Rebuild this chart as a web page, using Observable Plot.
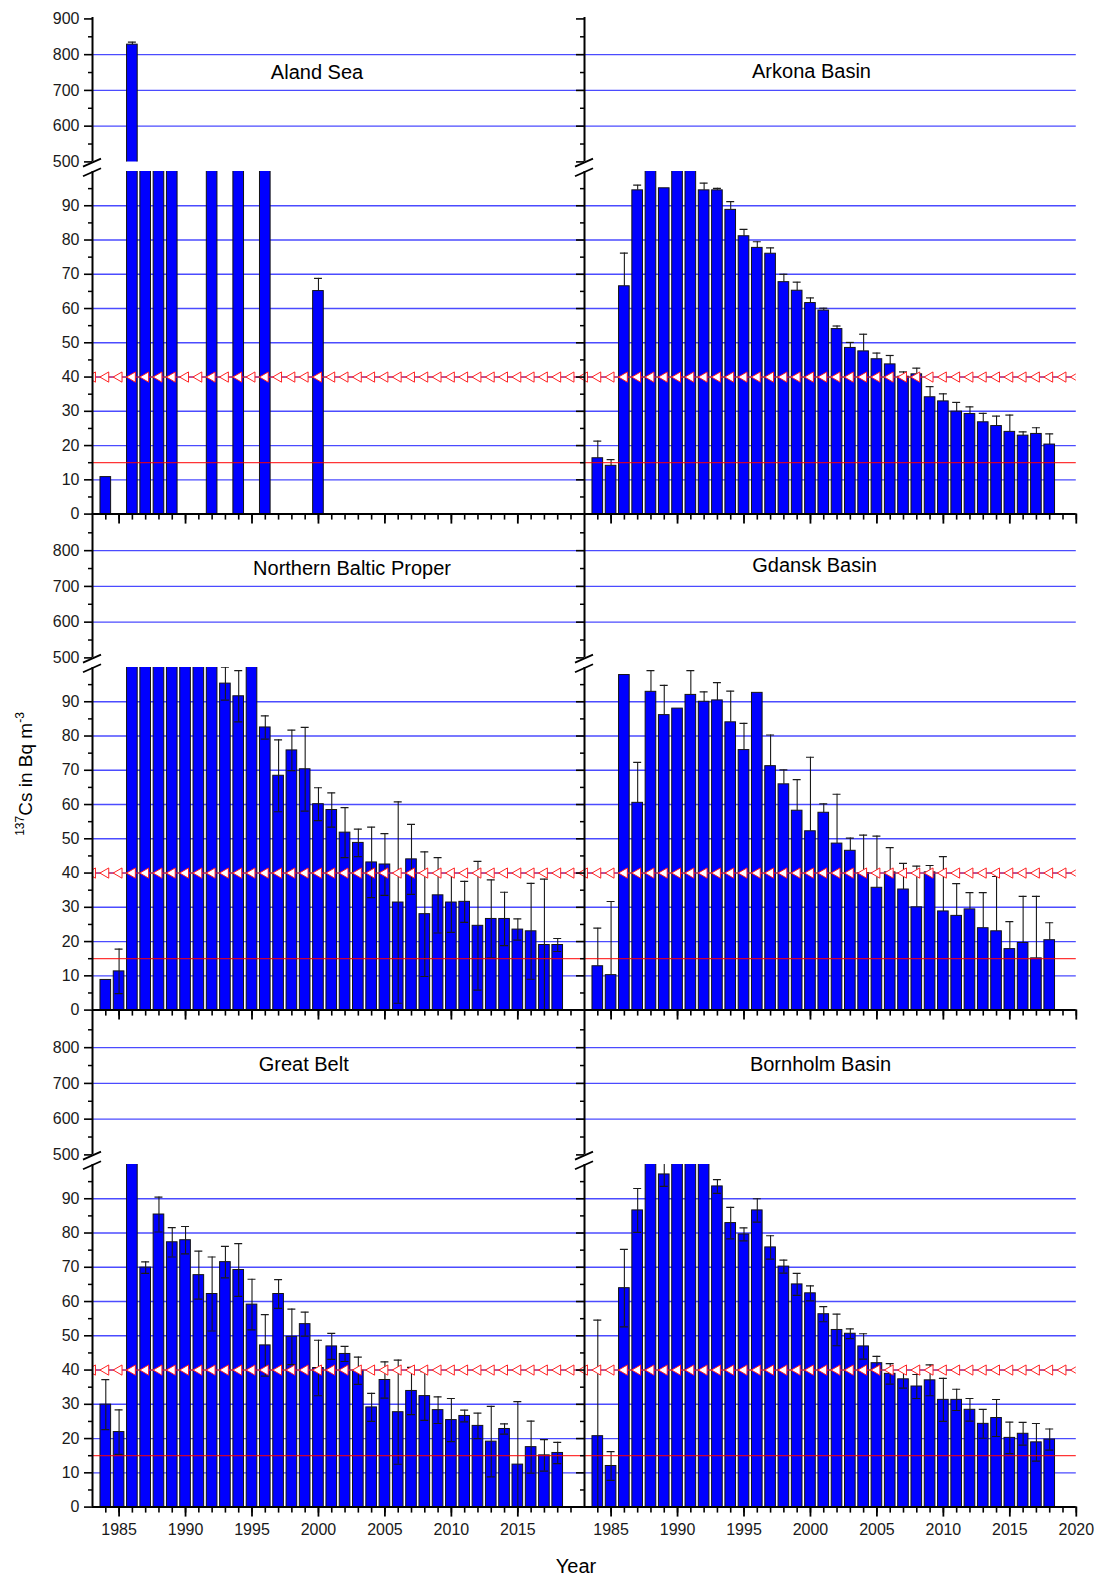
<!DOCTYPE html>
<html>
<head>
<meta charset="utf-8">
<script src="https://cdn.jsdelivr.net/npm/d3@7"></script>
<script src="https://cdn.jsdelivr.net/npm/@observablehq/plot@0.6"></script>
<style>
  body { margin: 0; background: #fff; }
  #chart { position: relative; width: 1097px; height: 1577px; font-family: "Liberation Sans", Arial, sans-serif; color: #000; overflow: hidden; }
  #chart svg { position: absolute; overflow: visible; max-width: none; }
  .lbl { position: absolute; white-space: nowrap; transform: translate(-50%, -50%); }
  .title { font-size: 20px; }
  .ylab { font-size: 19px; transform: translate(-50%, -50%) rotate(-90deg); }
  .ylab sup { font-size: 12px; vertical-align: 0; position: relative; top: -8px; }
</style>
</head>
<body>
<div id="chart"></div>
<script>
// ---------------- data ----------------
const years = [1984,1985,1986,1987,1988,1989,1990,1991,1992,1993,1994,1995,1996,1997,1998,1999,2000,
  2001,2002,2003,2004,2005,2006,2007,2008,2009,2010,2011,2012,2013,2014,2015,2016,2017,2018];

const alandSea    = [10.8,null,828,290,230,180,null,null,140,null,120,null,110,null,null,null,65.1,
  null,null,null,null,null,null,null,null,null,null,null,null,null,null,null,null,null,null];
const alandSeaErr = [null,null,7,null,null,null,null,null,null,null,null,null,null,null,null,null,3.7,
  null,null,null,null,null,null,null,null,null,null,null,null,null,null,null,null,null,null];

const arkona    = [16.3,14.1,66.5,94.5,105,95.1,110,104,94.5,94.5,88.8,81.1,77.7,76.0,67.7,65.2,61.6,
  59.4,54.0,48.5,47.5,45.2,43.7,40.1,40.8,34.1,32.9,29.9,29.2,26.8,25.7,24.0,22.9,23.4,20.3];
const arkonaErr = [5.0,1.8,9.7,1.5,null,null,null,null,2.1,0.6,2.4,2.0,1.8,1.7,2.3,2.5,1.5,
  0.7,0.9,1.6,5.0,1.8,2.6,1.4,1.8,3.1,2.2,2.7,2.1,2.6,2.9,4.9,1.1,1.8,3.1];

const northernBaltic    = [8.8,11.3,180,165,150,140,130,125,110,95.3,91.6,105,82.5,68.4,75.8,70.3,60.1,
  58.4,51.8,48.8,43.1,42.5,31.4,44.0,28.0,33.5,31.4,31.6,24.6,26.6,26.6,23.5,23.0,19.0,19.0];
const northernBalticErr = [null,6.5,null,null,null,null,null,null,null,4.8,7.5,null,3.4,10.5,5.9,12.2,4.8,
  5.0,7.3,4.0,10.3,9.0,29.4,10.2,18.2,11.0,8.7,6.0,18.8,11.4,7.8,3.1,14.0,19.2,1.9];

const gdansk    = [12.8,10.2,97.8,60.5,92.9,86.1,88.0,92.0,90.0,90.4,84.0,75.9,92.6,71.2,65.9,58.2,52.2,
  57.6,48.6,46.5,40.0,35.7,40.2,35.2,30.0,40.2,28.8,27.5,29.4,23.9,23.0,17.8,19.6,15.1,20.4];
const gdanskErr = [11.1,21.5,null,11.8,6.2,8.7,null,7.1,2.9,5.2,9.1,7.8,null,9.1,4.2,9.1,21.6,
  2.6,14.4,3.7,11.1,15.1,7.2,7.6,12.0,2.0,16.0,9.4,4.9,10.4,16.0,8.0,13.6,18.1,5.1];

const greatBelt    = [29.9,21.9,150,69.9,85.4,77.3,77.9,67.7,62.2,71.5,69.2,59.1,47.2,62.2,49.7,53.4,40.6,
  46.9,44.7,39.8,29.1,37.1,27.7,33.9,32.4,28.3,25.4,26.6,23.7,19.1,22.8,12.4,17.5,15.1,15.8];
const greatBeltErr = [7.3,6.5,null,1.7,5.1,4.3,4.0,7.0,10.8,4.6,7.7,7.4,9.0,4.2,8.1,3.5,8.1,
  3.8,2.2,4.0,4.1,5.3,15.2,6.9,7.1,3.9,6.3,1.7,3.7,10.3,1.5,18.4,7.6,4.6,3.1];

const bornholm    = [20.7,12.0,63.9,86.6,120,97.1,130,125,115,93.6,82.9,79.6,86.6,75.8,70.2,65.0,62.4,
  56.3,51.7,50.6,46.9,42.0,38.9,37.3,35.2,37.0,31.3,31.3,28.4,24.3,26.0,20.2,21.4,18.9,19.7];
const bornholmErr = [33.9,4.2,11.3,6.4,null,3.5,null,null,null,2.0,4.6,1.9,3.4,3.4,1.9,3.2,2.2,
  2.2,4.6,1.4,3.7,2.0,3.0,2.6,3.5,4.5,6.3,3.1,3.3,4.2,5.4,4.6,3.3,5.5,3.1];

// reference levels
const lowerLimit = 15;
const markerLevel = 40;
const markerYears = [1983,1984,1985,1986,1987,1988,1989,1990,1991,1992,1993,1994,1995,1996,1997,1998,1999,2000,
  2001,2002,2003,2004,2005,2006,2007,2008,2009,2010,2011,2012,2013,2014,2015,2016,2017,2018,2019,2020];

// tick values
const lowerMajorTicks = [0,10,20,30,40,50,60,70,80,90];
const lowerMinorTicks = [5,15,25,35,45,55,65,75,85,95];
const lowerGrid = [10,20,30,40,50,60,70,80,90];
const upperGrid = [600,700,800];
const upperMinorTicks = [550,650,750,850];
const xMinorLeft  = [1984,1985,1986,1987,1988,1989,1990,1991,1992,1993,1994,1995,1996,1997,1998,1999,2000,
  2001,2002,2003,2004,2005,2006,2007,2008,2009,2010,2011,2012,2013,2014,2015,2016,2017,2018,2019];
const xMinorRight = xMinorLeft.concat([2020]);
const xMajorLeft  = [1985,1990,1995,2000,2005,2010,2015];
const xMajorRight = [1985,1990,1995,2000,2005,2010,2015,2020];

const panels = [
  {name: "Aland Sea",             values: alandSea,       errors: alandSeaErr,       errMode: "up",   row: 0, col: 0, tx: 317,   ty: 71.7},
  {name: "Arkona Basin",          values: arkona,         errors: arkonaErr,         errMode: "up",   row: 0, col: 1, tx: 811.5, ty: 70.6},
  {name: "Northern Baltic Proper",values: northernBaltic, errors: northernBalticErr, errMode: "both", row: 1, col: 0, tx: 352,   ty: 567.5},
  {name: "Gdansk Basin",          values: gdansk,         errors: gdanskErr,         errMode: "up",   row: 1, col: 1, tx: 814.5, ty: 564.5},
  {name: "Great Belt",            values: greatBelt,      errors: greatBeltErr,      errMode: "both", row: 2, col: 0, tx: 303.7, ty: 1064},
  {name: "Bornholm Basin",        values: bornholm,       errors: bornholmErr,       errMode: "both", row: 2, col: 1, tx: 820.5, ty: 1064}
];

// ---------------- layout ----------------
const colX = [91.7, 583.5];
const PW = 491.8;
const rowAxisY = [513.3, 1010, 1506.7];
const LH = 342.6, GAP = 9.7, UH = 144.4;
const upperDomain = [500, 904];
const lowerDomain = [0, 100];
const GRID = "#4b4bff";
const BAR = "#0000ff";
const FONT = '"Liberation Sans", Arial, sans-serif';

const chart = document.getElementById("chart");

function breakMark(edge) {
  return (index, scales, values, dims) => {
    const g = d3.create("svg:g");
    const x0 = dims.marginLeft;
    const y0 = edge === "top" ? dims.marginTop + 1.2 : dims.height - dims.marginBottom + 1.2;
    g.append("line")
      .attr("x1", x0 - 9).attr("y1", y0 + 4)
      .attr("x2", x0 + 9).attr("y2", y0 - 4)
      .attr("stroke", "#000").attr("stroke-width", 1.8);
    return g.node();
  };
}

function segment(p, kind) {
  const isLower = kind === "lower";
  const mL = 70, mR = 14, mT = 14, mB = 44;
  const h = isLower ? LH : UH;
  const axisY = rowAxisY[p.row];
  const topY = isLower ? axisY - LH : axisY - LH - GAP - UH;
  const bottomRow = p.row === 2;
  const leftCol = p.col === 0;

  const data = years.map((y, i) => ({year: y, value: p.values[i], err: p.errors[i]}))
                    .filter(d => d.value != null);
  const errs = data.filter(d => d.err != null).map(d => ({
    year: d.year,
    lo: p.errMode === "both" ? d.value - d.err : d.value,
    hi: d.value + d.err
  }));
  const caps = [];
  errs.forEach(e => {
    caps.push({year: e.year, y: e.hi});
    if (p.errMode === "both") caps.push({year: e.year, y: e.lo});
  });

  const marks = [];
  marks.push(Plot.ruleY(isLower ? lowerGrid : upperGrid, {stroke: GRID, strokeWidth: 1.4}));
  marks.push(Plot.rectY(data, {
    x1: d => d.year - 0.4, x2: d => d.year + 0.4, y1: 0, y2: "value",
    fill: BAR, stroke: "#141414", strokeWidth: 1, inset: 0, clip: true
  }));
  marks.push(Plot.ruleX(errs, {x: "year", y1: "lo", y2: "hi", stroke: "#1a1a1a", strokeWidth: 1.1, clip: true}));
  marks.push(Plot.ruleY(caps, {x1: d => d.year - 0.3, x2: d => d.year + 0.3, y: "y", stroke: "#1a1a1a", strokeWidth: 1.2, clip: true}));
  if (isLower) {
    marks.push(Plot.ruleY([lowerLimit], {stroke: "#ff0000", strokeWidth: 1}));
    marks.push(Plot.ruleY([markerLevel], {stroke: "#ff3030", strokeWidth: 1}));
    marks.push(Plot.dot(markerYears, {
      x: d => d, y: markerLevel, symbol: "triangle", rotate: -90, r: 3.8,
      fill: "white", stroke: "#ff2020", strokeWidth: 1, clip: true
    }));
  }
  // axis lines
  marks.push(Plot.ruleX([1983], {stroke: "#000", strokeWidth: 2}));
  if (isLower) marks.push(Plot.ruleY([0], {stroke: "#000", strokeWidth: 2}));

  // y ticks
  const yMajor = isLower ? lowerMajorTicks : (p.row === 0 ? [500,600,700,800,900] : [500,600,700,800]);
  const yMinor = isLower ? lowerMinorTicks : upperMinorTicks;
  marks.push(Plot.axisY({ticks: yMinor, anchor: "left", tickSize: 4, strokeWidth: 1.5, tickFormat: () => "", label: null}));
  marks.push(Plot.axisY({ticks: yMajor, anchor: "left", tickSize: 8, tickPadding: 5, strokeWidth: 1.6,
    fontSize: 16, fill: "#1a1a1a",
    tickFormat: leftCol ? (d => String(d)) : (() => ""), label: null}));

  // x ticks
  if (isLower) {
    marks.push(Plot.axisX({ticks: leftCol ? xMinorLeft : xMinorRight, anchor: "bottom", tickSize: 6,
      strokeWidth: 1.6, tickFormat: () => "", label: null}));
    marks.push(Plot.axisX({ticks: leftCol ? xMajorLeft : xMajorRight, anchor: "bottom", tickSize: 10,
      tickPadding: 7, strokeWidth: 1.8, fontSize: 16, fill: "#1a1a1a",
      tickFormat: bottomRow ? (d => String(d)) : (() => ""), label: null}));
  }
  marks.push(breakMark(isLower ? "top" : "bottom"));

  const svg = Plot.plot({
    width: PW + mL + mR,
    height: h + mT + mB,
    marginLeft: mL, marginRight: mR, marginTop: mT, marginBottom: mB,
    x: {domain: [1983, 2020], axis: null},
    y: {domain: isLower ? lowerDomain : upperDomain, axis: null},
    style: {background: "transparent", fontFamily: FONT, fontSize: "16px", overflow: "visible", maxWidth: "none"},
    marks
  });
  svg.style.left = (colX[p.col] - mL) + "px";
  svg.style.top = (topY - mT) + "px";
  chart.appendChild(svg);
}

panels.forEach(p => { segment(p, "upper"); });
panels.forEach(p => { segment(p, "lower"); });

// titles
panels.forEach(p => {
  const t = document.createElement("div");
  t.className = "lbl title";
  t.textContent = p.name;
  t.style.left = p.tx + "px";
  t.style.top = p.ty + "px";
  chart.appendChild(t);
});

// axis titles
const yl = document.createElement("div");
yl.className = "lbl ylab";
yl.innerHTML = "<sup>137</sup>Cs in Bq m<sup>-3</sup>";
yl.style.left = "26px";
yl.style.top = "774px";
chart.appendChild(yl);

const xl = document.createElement("div");
xl.className = "lbl title";
xl.textContent = "Year";
xl.style.left = "576px";
xl.style.top = "1566px";
chart.appendChild(xl);
</script>
</body>
</html>
